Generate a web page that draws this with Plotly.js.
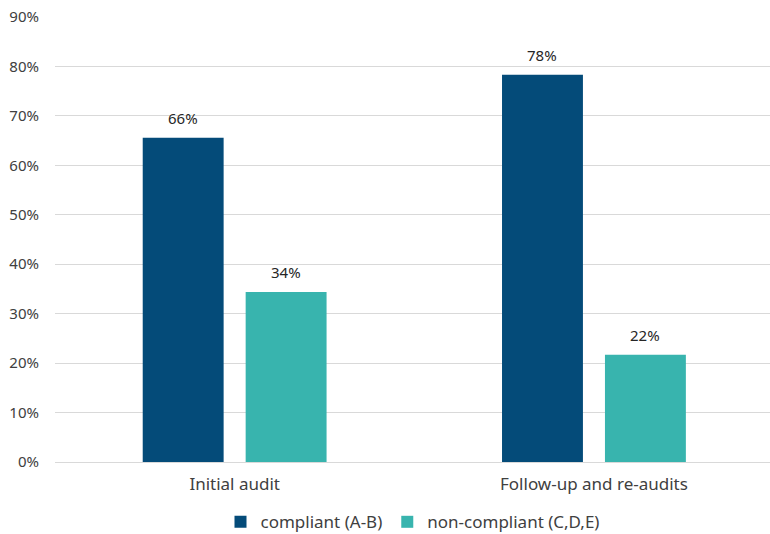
<!DOCTYPE html>
<html><head><meta charset="utf-8">
<script src="https://cdn.plot.ly/plotly-3.0.1.min.js"></script>
<style>body{margin:0;background:#fff}#c{width:770px;height:534px}</style>
</head><body><div id="c"></div>
<script>
const categories = ["Initial audit", "Follow-up and re-audits"];
const seriesNames = ["compliant (A-B)", "non-compliant (C,D,E)"];
const compliant = [65.6, 78.3];
const nonCompliant = [34.4, 21.7];
const yTickVals = [0,10,20,30,40,50,60,70,80,90];
const yTickText = yTickVals.map(v => v + "%");
const colors = ["#044B79", "#38B4AE"];
const font = "Noto Sans, Open Sans, sans-serif";

const series = [compliant, nonCompliant];
const data = series.map((vals, i) => ({
  type:"bar", name:seriesNames[i], x:categories, y:vals,
  marker:{color:colors[i]}, hoverinfo:"skip"
}));
const slotPx = 103;
const annotations = [];
series.forEach((vals, i) => {
  vals.forEach((v, j) => {
    annotations.push({x:categories[j], y:v, xref:"x", yref:"y",
      text: Math.round(v) + "%", showarrow:false, yanchor:"bottom",
      yshift:8, xshift:(i - 0.5) * slotPx,
      font:{family:font, size:15, color:"#262626"}});
  });
});
const layout = {
  width:770, height:534,
  margin:{l:55, r:0, t:17, b:72, autoexpand:false},
  paper_bgcolor:"#fff", plot_bgcolor:"#fff",
  barmode:"group", bargap:0.427, bargroupgap:0.214,
  font:{family:font, color:"#404040"},
  xaxis:{range:[-0.5,1.49], showline:false, ticks:"", tickfont:{size:17, color:"#404040"}, ticklabelstandoff:10, fixedrange:true, automargin:false},
  yaxis:{range:[0,90], tickvals:yTickVals, ticktext:yTickText, showgrid:true, gridcolor:"#D9D9D9", gridwidth:1,
    zeroline:true, zerolinecolor:"#D9D9D9", zerolinewidth:1, showline:false, ticks:"",
    tickfont:{size:15, color:"#404040"}, ticklabelstandoff:15, automargin:false},
  annotations: annotations,
  showlegend:true,
  legend:{orientation:"h", x:0.5, xanchor:"center", yref:"container", y:0.022, yanchor:"middle", font:{size:17, color:"#404040"}, itemwidth:30, traceorder:"normal"}
};
Plotly.newPlot("c", data, layout, {displayModeBar:false, staticPlot:true});
</script></body></html>
